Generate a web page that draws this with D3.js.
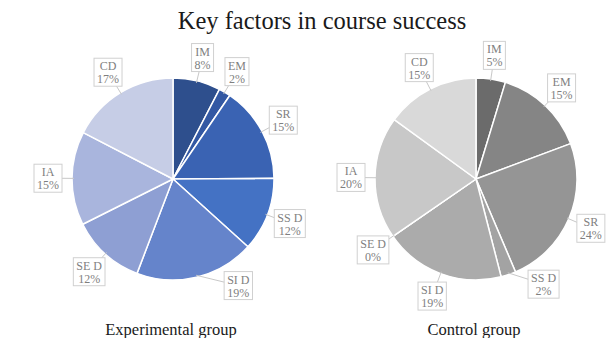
<!DOCTYPE html>
<html><head><meta charset="utf-8">
<script src="https://cdn.jsdelivr.net/npm/d3@7"></script>
<style>
html,body{margin:0;padding:0;background:#fff;}
svg{display:block;}
</style></head>
<body>
<svg id="chart" width="613" height="338"></svg>
<script>
const title = "Key factors in course success";
const categories = ["IM", "EM", "SR", "SS D", "SI D", "SE D", "IA", "CD"];
const experimentalValues = [7.6, 1.9, 15.4, 11.8, 19.1, 11.8, 15.0, 17.4];
const controlValues = [4.7, 14.6, 24.3, 2.4, 19.4, 0.0, 19.6, 15.0];
const groupNames = ["Experimental group", "Control group"];
const experimentalColors = ["#2e4f8d", "#3358a3", "#3a63b3", "#4472c4", "#6584cb", "#8e9fd3", "#a9b5dd", "#c6cde6"];
const controlColors = ["#6b6b6b", "#858585", "#959595", "#a3a3a3", "#ababab", "#b5b5b5", "#c8c8c8", "#d9d9d9"];
// label angle nudges (degrees), layout only
const labelNudge = [{"SI D": -18}, {"SS D": -14}];

const svg = d3.select("#chart");
const font = "'Liberation Serif','Times New Roman',serif";

svg.append("text").attr("x", 322).attr("y", 29).attr("text-anchor", "middle")
  .attr("font-family", font).attr("font-size", 24.5).attr("fill", "#1a1a1a").text(title);

const r = 101;
const centers = [[173, 179], [476, 179]];
const groups = [experimentalValues, controlValues];
const palettes = [experimentalColors, controlColors];
const fmt = d3.format(".0%");

groups.forEach((vals, gi) => {
  const data = categories.map((c, i) => ({name: c, value: vals[i]}));
  const total = d3.sum(vals);
  const pie = d3.pie().value(d => d.value).sort(null);
  const arcs = pie(data);
  const arc = d3.arc().innerRadius(0).outerRadius(r);
  const color = d3.scaleOrdinal().domain(categories).range(palettes[gi]);
  const g = svg.append("g").attr("transform", `translate(${centers[gi][0]},${centers[gi][1]})`);

  g.selectAll("path.slice").data(arcs).join("path").attr("class", "slice")
    .attr("d", arc).attr("fill", d => color(d.data.name))
    .attr("stroke", "#fff").attr("stroke-width", 1.5).attr("stroke-linejoin", "round");

  const labelR = r + 24;
  arcs.forEach(d => {
    const mid = (d.startAngle + d.endAngle) / 2;
    const nudge = ((labelNudge[gi][d.data.name] || 0) * Math.PI / 180);
    const la = mid + nudge;
    const lx = labelR * Math.sin(la), ly = -labelR * Math.cos(la);
    const ax = (r - 2) * Math.sin(mid), ay = -(r - 2) * Math.cos(mid);
    const lg = g.append("g");
    lg.append("line").attr("x1", ax).attr("y1", ay).attr("x2", lx).attr("y2", ly)
      .attr("stroke", "#c8c8c8").attr("stroke-width", 1);
    const rect = lg.append("rect").attr("fill", "#fff").attr("stroke", "#d0d0d0").attr("stroke-width", 1);
    const t1 = lg.append("text").attr("x", lx).attr("y", ly - 2).attr("text-anchor", "middle")
      .attr("font-family", font).attr("font-size", 12).attr("fill", "#7f7f7f").text(d.data.name);
    const t2 = lg.append("text").attr("x", lx).attr("y", ly + 11).attr("text-anchor", "middle")
      .attr("font-family", font).attr("font-size", 12).attr("fill", "#7f7f7f").text(fmt(d.data.value / total));
    const w = Math.max(t1.node().getComputedTextLength(), t2.node().getComputedTextLength()) + 6;
    const h = 28;
    rect.attr("x", lx - w / 2).attr("y", ly - h / 2).attr("width", w).attr("height", h);
  });

  svg.append("text").attr("x", centers[gi][0] - 2).attr("y", 335).attr("text-anchor", "middle")
    .attr("font-family", font).attr("font-size", 16.5).attr("fill", "#1a1a1a").text(groupNames[gi]);
});
</script>
</body></html>
